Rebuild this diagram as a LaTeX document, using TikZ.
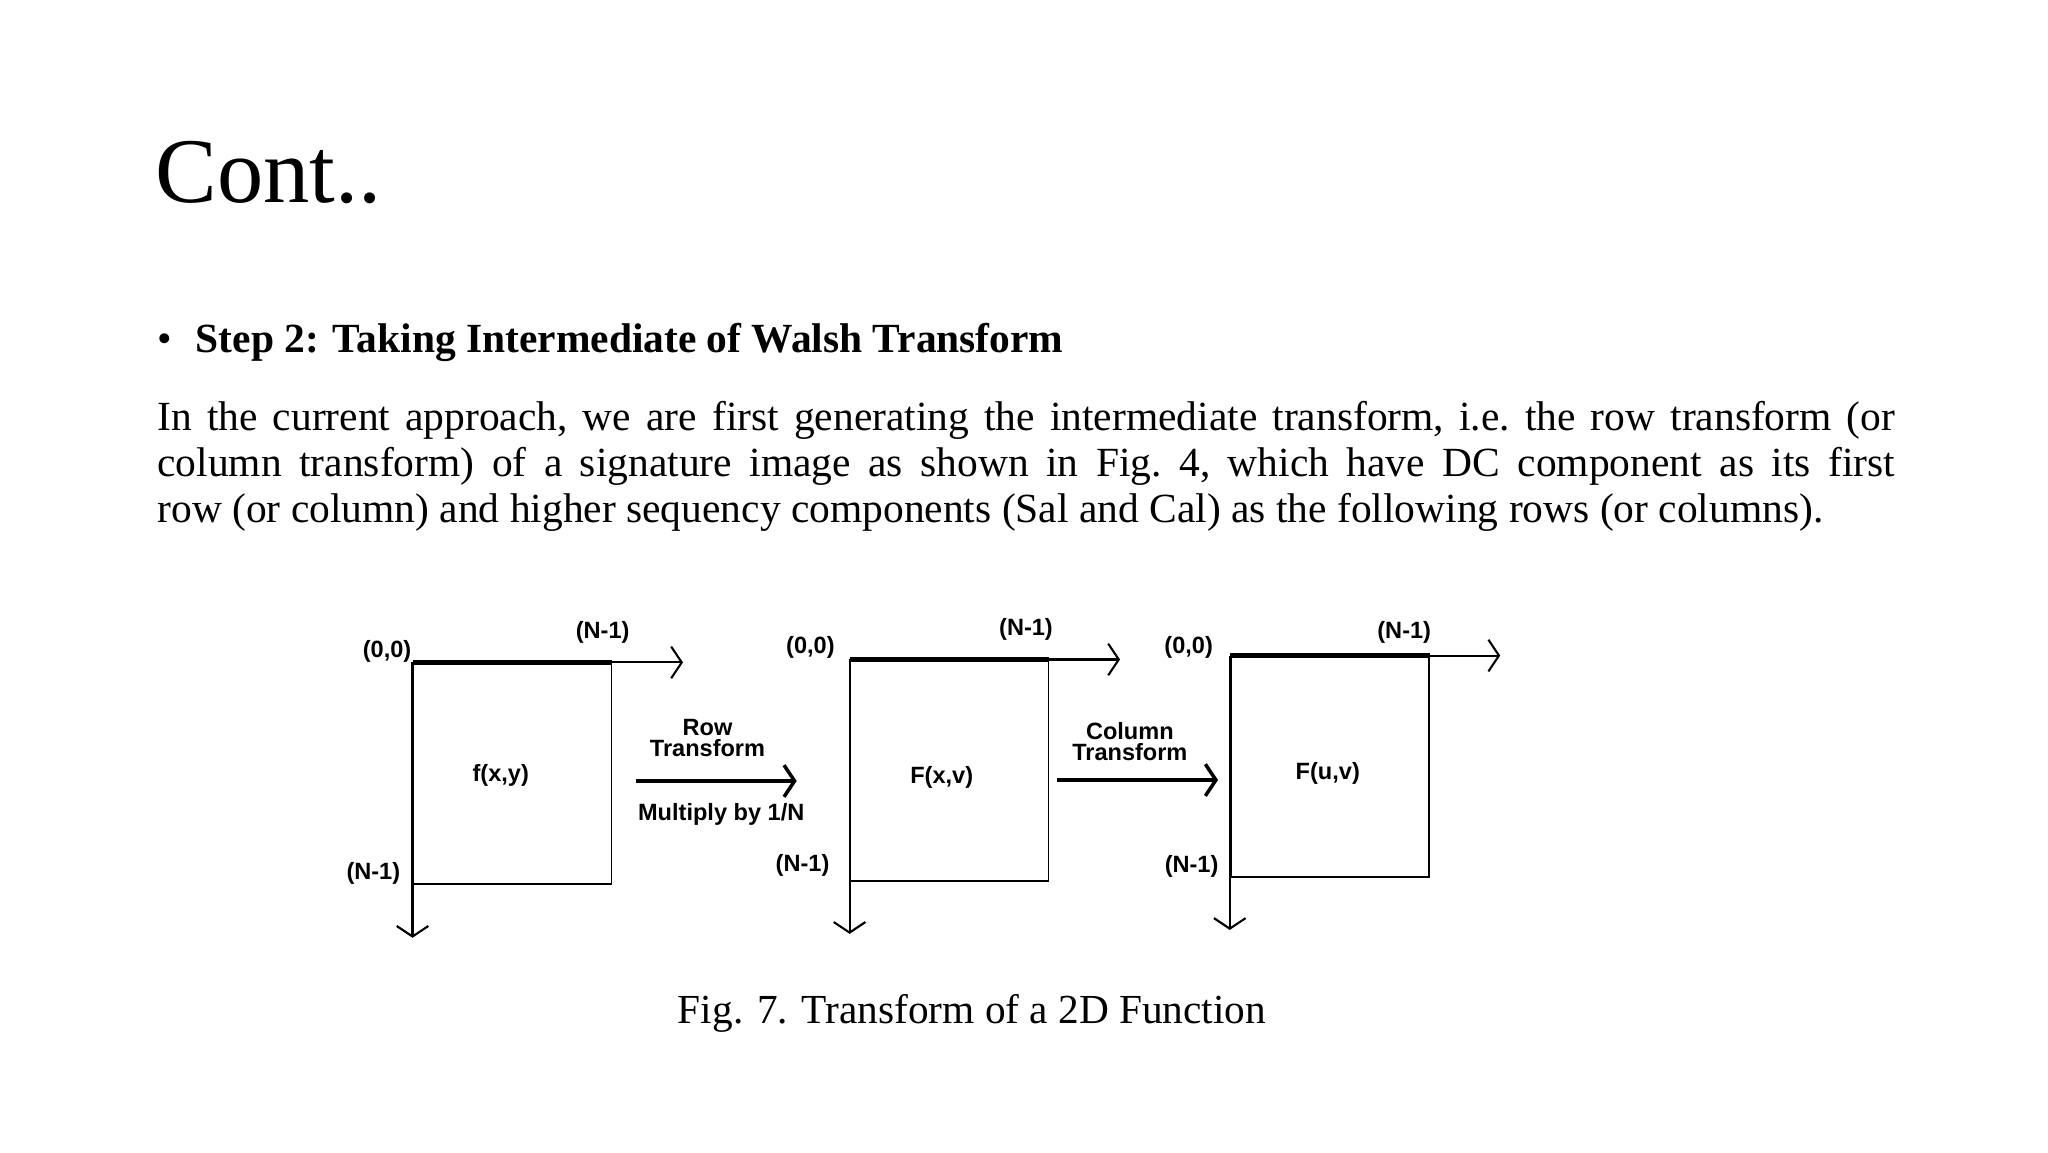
\documentclass[tikz,border=0pt]{standalone}
\usepackage{fontspec}
\setmainfont{Liberation Serif}
\newfontfamily\dsans{Liberation Sans}
\usetikzlibrary{arrows.meta}
\tikzset{
 lab/.style={font=\dsans\bfseries\fontsize{6.7}{8}\selectfont, inner sep=0pt, align=center},
 axis/.style={line width=0.6pt, -{Straight Barb[length=3pt,width=9pt]}},
 box/.style={draw, line width=0.5pt, minimum width=1.98cm, minimum height=2.205cm, inner sep=0pt, anchor=north west},
 flow/.style={line width=1pt, -{Straight Barb[length=3pt,width=9pt]}},
}
\begin{document}
\begin{tikzpicture}[x=0.0098cm,y=-0.0098cm]
\useasboundingbox (0,0) rectangle (2090,1176);
\node[anchor=base west, inner sep=0pt, font=\fontsize{26.3}{30}\selectfont] (title) at (158,207) {Cont..};
\node[anchor=base west, inner sep=0pt, font=\fontsize{11.8}{13}\selectfont] (bul) at (160,360) {\textbullet};
\node[anchor=base west, inner sep=0pt, font=\bfseries\fontsize{11.8}{13}\selectfont] (head) at (199,360) {Step 2: Taking Intermediate of Walsh Transform};
\node[anchor=north west, inner sep=0pt, text width=17.37cm, align=justify, font=\frenchspacing\fontsize{11.8}{13}\selectfont] (para) at (160,409) {In the current approach, we are first generating the intermediate transform, i.e. the row transform (or\linebreak column transform) of a signature image as shown in Fig. 4, which have DC component as its first\linebreak row (or column) and higher sequency components (Sal and Cal) as the following rows (or columns).};
% boxes
\node[box] (b1) at (421,676) {};
\node[box] (b2) at (867,673) {};
\node[box] (b3) at (1255,669) {};
\node[lab] (t1) at (511,791) {f(x,y)};
\node[lab] (t2) at (961,793) {F(x,v)};
\node[lab] (t3) at (1355,789) {F(u,v)};
% axes
\coordinate (r1) at (697,676); \coordinate (d1) at (421,957);
\coordinate (r2) at (1143,673); \coordinate (d2) at (867,953);
\coordinate (r3) at (1531,669); \coordinate (d3) at (1255,949);
\foreach \i in {1,2,3}{
 \draw[axis] (b\i.north west) -- (r\i);
 \draw[axis] (b\i.north west) -- (d\i);
 \draw[line width=1.5pt] (b\i.north west) -- (b\i.north east);
}
\node[lab] (o1) at (395,665) {(0,0)};
\node[lab] (n1) at (615,645) {(N-1)};
\node[lab] (m1) at (381,891) {(N-1)};
\node[lab] (o2) at (827,661) {(0,0)};
\node[lab] (n2) at (1047,642) {(N-1)};
\node[lab] (m2) at (819,883) {(N-1)};
\node[lab] (o3) at (1213,661) {(0,0)};
\node[lab] (n3) at (1433,645) {(N-1)};
\node[lab] (m3) at (1216,884) {(N-1)};
% transforms
\coordinate (a1s) at (649,797); \coordinate (a1e) at (813,797);
\draw[flow] (a1s) -- (a1e);
\node[lab] (rt) at (722,753) {Row\\[-2pt]Transform};
\node[lab] (mul) at (736,831) {Multiply by 1/N};
\coordinate (a2s) at (1079,796); \coordinate (a2e) at (1243,796);
\draw[flow] (a2s) -- (a2e);
\node[lab] (ct) at (1153,757) {Column\\[-2pt]Transform};
\node[anchor=base, inner sep=0pt, font=\fontsize{11.75}{13}\selectfont] (cap) at (992,1044) {Fig. 7. Transform of a 2D Function};
\end{tikzpicture}
\end{document}
